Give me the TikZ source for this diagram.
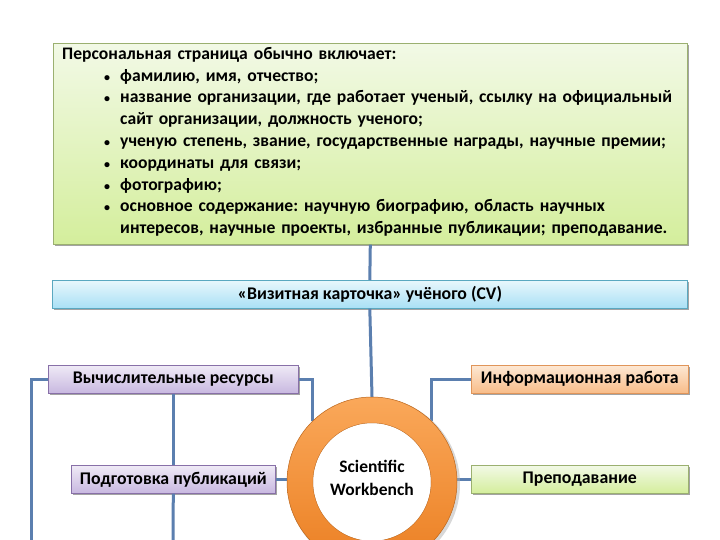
\documentclass[tikz,border=0pt]{standalone}
\usepackage{fontspec}
\setmainfont{Carlito}
\usetikzlibrary{shadows}
\definecolor{lineblue}{HTML}{5B7FAF}
\definecolor{greenA}{HTML}{F2F9E6}
\definecolor{greenB}{HTML}{D4EE9C}
\definecolor{greenbd}{HTML}{9BB070}
\definecolor{cyanA}{HTML}{E8F7FC}
\definecolor{cyanB}{HTML}{A9E0F5}
\definecolor{cyanbd}{HTML}{5AA8C0}
\definecolor{lavA}{HTML}{EFEAF6}
\definecolor{lavB}{HTML}{C8B8E0}
\definecolor{lavbd}{HTML}{8870A8}
\definecolor{peachA}{HTML}{FDE8D4}
\definecolor{peachB}{HTML}{F8BC88}
\definecolor{peachbd}{HTML}{E0955A}
\definecolor{ringA}{HTML}{FAA85A}
\definecolor{ringB}{HTML}{EB7F22}
\newcommand\bitem[1]{\par\noindent\llap{\makebox[16pt][l]{\fontsize{12}{12}\selectfont•}}#1}
\tikzset{
  box/.style={draw, line width=0.6pt, minimum height=28pt, inner sep=0pt,
    drop shadow={shadow xshift=2pt, shadow yshift=-2pt, fill=black!45, opacity=0.8},
    font=\bfseries\fontsize{17.8}{20}\selectfont},
  lavbox/.style={box, draw=lavbd, top color=lavA, bottom color=lavB},
  peachbox/.style={box, draw=peachbd, top color=peachA, bottom color=peachB},
  greenbox/.style={box, draw=greenbd, top color=greenA, bottom color=greenB},
  cyanbox/.style={box, draw=cyanbd, top color=cyanA, bottom color=cyanB},
  conn/.style={draw=lineblue, line width=3pt},
}
\begin{document}
\begin{tikzpicture}[x=1pt,y=-1pt]
\useasboundingbox (0,0) rectangle (720,540);
\fill[white] (0,0) rectangle (720,540);
% coordinates for free ends
\coordinate (bl) at (31,545);
\coordinate (bm) at (173,545);
% top box
\node[greenbox, minimum width=634pt, minimum height=201pt, anchor=north west] (top) at (53,43) {};
\node[anchor=north west, text width=625pt, inner sep=0pt, align=left,
  font=\bfseries\fontsize{17.6}{21.8}\selectfont\frenchspacing] (toptext) at (62,47) {%
  Персональная страница обычно включает:\par
  \leftskip=58pt
  \bitem{фамилию, имя, отчество;}
  \bitem{название организации, где работает ученый, ссылку на официальный\\сайт организации, должность ученого;}
  \bitem{ученую степень, звание, государственные награды, научные премии;}
  \bitem{координаты для связи;}
  \bitem{фотографию;}
  \bitem{основное содержание: научную биографию, область научных\\интересов, научные проекты, избранные публикации; преподавание.}\par};
% CV box
\node[cyanbox, minimum width=635pt, anchor=north west] (cv) at (52,280) {«Визитная карточка» учёного (CV)};
% ring
\node[circle, minimum size=170pt, inner sep=0pt] (ring) at (372,482) {};
% side boxes
\node[lavbox, minimum width=250pt, anchor=north west] (vr) at (48,365) {Вычислительные ресурсы};
\node[lavbox, minimum width=204pt, anchor=north west] (pp) at (71,465) {Подготовка публикаций};
\node[peachbox, minimum width=217pt, anchor=north west] (info) at (471,365) {Информационная работа};
\node[greenbox, minimum width=217pt, anchor=north west] (tch) at (471,465) {Преподавание};
% connectors
\draw[conn] (top.south) -- (cv.north);
\draw[conn] (cv.south) -- (ring.north);
\draw[conn] (vr.west) -| (bl);
\draw[conn] (vr.east) -| (ring.134);
\draw[conn] (vr.south) -- (pp.north);
\draw[conn] (pp.south) -- (bm);
\draw[conn] (pp.east) -- (pp.east -| ring.west);
\draw[conn] (info.west) -| (ring.46);
\draw[conn] (tch.west) -- (tch.west -| ring.east);
% ring drawing
\fill[black!30, opacity=0.5] ([shift={(2,2)}]ring.center) circle (86);
\path[even odd rule, top color=ringA, bottom color=ringB, draw=ringB!80!black, line width=0.5pt]
  (ring.center) circle (85) (ring.center) circle (59);
\fill[white] (ring.center) circle (58.7);
\node[align=center, font=\bfseries\fontsize{17.5}{23}\selectfont, text=black] (rtext) at ([yshift=4pt]ring.center) {Scientific\\Workbench};
\end{tikzpicture}
\end{document}
